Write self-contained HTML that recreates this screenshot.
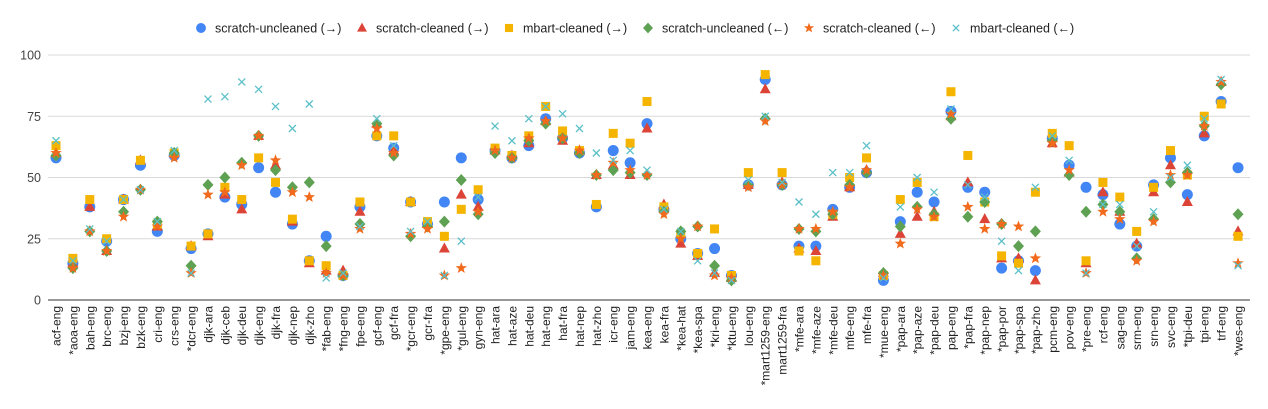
<!DOCTYPE html>
<html><head><meta charset="utf-8">
<style>
html,body{margin:0;padding:0;background:#fff;}
svg{display:block;font-family:"Liberation Sans",Arial,sans-serif;}
</style></head>
<body>
<svg id="c" width="1268" height="409" xmlns="http://www.w3.org/2000/svg"></svg>
<script>
const labels=["acf-eng","*aoa-eng","bah-eng","brc-eng","bzj-eng","bzk-eng","cri-eng","crs-eng","*dcr-eng","djk-ara","djk-ceb","djk-deu","djk-eng","djk-fra","djk-nep","djk-zho","*fab-eng","*fng-eng","fpe-eng","gcf-eng","gcf-fra","*gcr-eng","gcr-fra","*gpe-eng","*gul-eng","gyn-eng","hat-ara","hat-aze","hat-deu","hat-eng","hat-fra","hat-nep","hat-zho","icr-eng","jam-eng","kea-eng","kea-fra","*kea-hat","*kea-spa","*kri-eng","*ktu-eng","lou-eng","*mart1259-eng","mart1259-fra","*mfe-ara","*mfe-aze","*mfe-deu","mfe-eng","mfe-fra","*mue-eng","*pap-ara","*pap-aze","*pap-deu","pap-eng","*pap-fra","*pap-nep","*pap-por","*pap-spa","*pap-zho","pcm-eng","pov-eng","*pre-eng","rcf-eng","sag-eng","srm-eng","srn-eng","svc-eng","*tpi-deu","tpi-eng","trf-eng","*wes-eng"];
const D=[[58,60,63,59,60,65],[15,15,17,13,13,16],[38,38,41,28,28,29],[24,20,25,20,20,24],[41,41,41,36,34,41],[55,57,57,45,45,45],[28,30,31,32,30,32],[59,60,60,60,58,61],[21,22,22,14,11,11],[27,26,27,47,43,82],[42,43,46,50,44,83],[39,37,41,56,55,89],[54,67,58,67,67,86],[44,55,48,53,57,79],[31,32,33,46,44,70],[16,15,16,48,42,80],[26,12,14,22,11,9],[10,12,10,10,10,11],[38,36,40,31,29,30],[67,72,67,72,70,74],[62,61,67,59,60,63],[40,40,40,26,27,28],[31,31,32,30,29,32],[40,21,26,32,10,10],[58,43,37,49,13,24],[41,38,45,35,36,42],[61,61,62,60,61,71],[58,59,59,58,58,65],[63,64,67,65,66,74],[74,73,79,72,73,79],[66,65,69,66,66,76],[60,61,61,60,61,70],[38,51,39,51,51,60],[61,55,68,53,56,57],[56,51,64,52,53,61],[72,70,81,51,51,53],[37,39,38,36,35,37],[25,23,27,28,25,28],[19,18,19,30,30,16],[21,11,29,14,10,11],[10,9,10,8,9,8],[47,47,52,47,46,49],[90,86,92,74,73,75],[47,48,52,47,47,48],[22,21,20,29,29,40],[22,20,16,28,29,35],[37,34,35,35,36,52],[46,46,50,47,46,52],[52,53,58,52,53,63],[8,11,10,11,10,9],[32,27,41,30,23,38],[44,34,48,38,37,50],[40,36,34,35,34,44],[77,75,85,74,76,78],[46,48,59,34,38,47],[44,33,40,40,29,42],[13,17,18,31,31,24],[16,17,15,22,30,12],[12,8,44,28,17,46],[66,64,68,65,64,67],[55,52,63,51,53,57],[46,15,16,36,11,11],[43,44,48,39,36,39],[31,36,42,36,33,39],[22,23,28,17,16,22],[47,44,46,33,32,36],[58,55,61,48,51,50],[43,40,51,52,51,55],[67,68,75,71,71,74],[81,89,80,88,89,90],[54,28,26,35,15,14]];
const C=["#4285f4","#db4437","#f4b400","#5ea152","#f26a1b","#5bc0c8"];
const y=v=>300-v*2.45, x=i=>56+i*16.886;
let s="";
for(const g of [25,50,75,100]) s+=`<line x1="48" x2="1250" y1="${y(g)}" y2="${y(g)}" stroke="#d9d9d9" stroke-width="1"/>`;
s+=`<line x1="48" x2="1250" y1="300" y2="300" stroke="#333" stroke-width="1"/>`;
for(const g of [0,25,50,75,100]) s+=`<text x="41" y="${y(g)+4.5}" font-size="12.5" fill="#444" text-anchor="end">${g}</text>`;
function mk(t,cx,cy,k){k=k||1;const c=C[t];
 if(t==0)return `<circle cx="${cx}" cy="${cy}" r="${5.5*k}" fill="${c}"/>`;
 if(t==1)return `<polygon points="${cx},${cy-6*k} ${cx+5.5*k},${cy+4*k} ${cx-5.5*k},${cy+4*k}" fill="${c}"/>`;
 if(t==2)return `<rect x="${cx-4.5*k}" y="${cy-4.5*k}" width="${9*k}" height="${9*k}" fill="${c}"/>`;
 if(t==3)return `<polygon points="${cx},${cy-6*k} ${cx+5.5*k},${cy} ${cx},${cy+6*k} ${cx-5.5*k},${cy}" fill="${c}"/>`;
 if(t==4){let p=[];for(let j=0;j<10;j++){const r=(j%2?2.5:6)*k,a=-Math.PI/2+j*Math.PI/5;p.push((cx+r*Math.cos(a)).toFixed(1)+","+(cy+r*Math.sin(a)).toFixed(1));}return `<polygon points="${p.join(" ")}" fill="${c}"/>`;}
 return `<path d="M${cx-3.5*k},${cy-3.5*k}L${cx+3.5*k},${cy+3.5*k}M${cx+3.5*k},${cy-3.5*k}L${cx-3.5*k},${cy+3.5*k}" stroke="${c}" stroke-width="1.3"/>`;
}
D.forEach((r,i)=>{r.forEach((v,t)=>{s+=mk(t,x(i),y(v));});
 s+=`<text transform="translate(${x(i)+4.5},306) rotate(-90)" font-size="12" fill="#222" text-anchor="end">${labels[i]}</text>`;});
const L=[["scratch-uncleaned (→)",201],["scratch-cleaned (→)",362],["mbart-cleaned (→)",509],["scratch-uncleaned (←)",648],["scratch-cleaned (←)",809],["mbart-cleaned (←)",956]];
L.forEach((l,t)=>{s+=mk(t,l[1],28,0.9);s+=`<text x="${l[1]+14}" y="32.5" font-size="12.5" fill="#222">${l[0]}</text>`;});
document.getElementById("c").innerHTML=s;
</script>
</body></html>
